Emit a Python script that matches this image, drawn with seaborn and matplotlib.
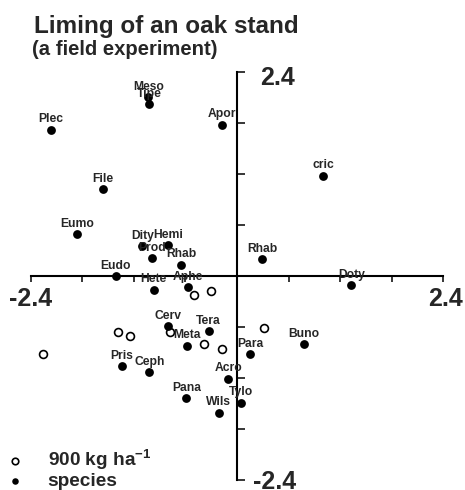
import matplotlib
matplotlib.use("Agg")
import matplotlib.pyplot as plt
import numpy as np
import pandas as pd
import seaborn as sns

# Species scores on the first two ordination axes
species = ["Meso", "Tipe", "Plec", "Apor", "cric", "File", "Eumo", "Dity",
           "Hemi", "Prod", "Rhab", "Rhab", "Eudo", "Hete", "Aphe", "Doty",
           "Cerv", "Tera", "Meta", "Pris", "Ceph", "Pana", "Acro", "Tylo",
           "Wils", "Para", "Buno"]
species_x = [-1.03, -1.02, -2.16, -0.17, 1.00, -1.56, -1.86, -1.10,
             -0.80, -0.99, -0.65, 0.29, -1.41, -0.97, -0.57, 1.33,
             -0.80, -0.33, -0.58, -1.34, -1.02, -0.59, -0.10, 0.05,
             -0.21, 0.15, 0.78]
species_y = [2.10, 2.02, 1.72, 1.78, 1.18, 1.02, 0.49, 0.35,
             0.36, 0.21, 0.13, 0.20, 0.00, -0.16, -0.13, -0.11,
             -0.59, -0.65, -0.82, -1.06, -1.13, -1.44, -1.21, -1.49,
             -1.61, -0.92, -0.80]

# Plot scores for the 900 kg/ha liming treatment
limed_x = [-2.26, -1.38, -1.24, -0.78, -0.50, -0.30, -0.38, -0.17, 0.31]
limed_y = [-0.92, -0.66, -0.71, -0.66, -0.22, -0.18, -0.80, -0.86, -0.61]

axis_ticks = [-2.4, -1.8, -1.2, -0.6, 0.0, 0.6, 1.2, 1.8, 2.4]
end_labels = ["-2.4", "2.4"]

title = "Liming of an oak stand"
subtitle = "(a field experiment)"
limed_name = "900 kg ha$^{-1}$"
species_name = "species"

sns.set_style("white")
plt.rcParams["font.family"] = ["Liberation Sans", "DejaVu Sans"]
plt.rcParams["mathtext.default"] = "regular"

W, H = 465, 490
fig = plt.figure(figsize=(W / 100, H / 100), dpi=100)
ax = fig.add_axes([0, 0, 1, 1])

# origin of the ordination at pixel (237, 276), ~86 px per unit
ox, oy, kx, ky = 237.0, 276.0, 86.0, 85.0
ax.set_xlim((0 - ox) / kx, (W - ox) / kx)
ax.set_ylim((oy - H) / ky, (oy - 0) / ky)

species_df = pd.DataFrame({"x": species_x, "y": species_y, "name": species})
limed_df = pd.DataFrame({"x": limed_x, "y": limed_y})

sns.scatterplot(data=limed_df, x="x", y="y", ax=ax, marker="o", s=32,
                facecolor="white", edgecolor="black", linewidth=1.2,
                label=limed_name, zorder=3)
sns.scatterplot(data=species_df, x="x", y="y", ax=ax, marker="o", s=40,
                color="black", edgecolor="black", linewidth=0,
                label=species_name, zorder=4)

for _, r in species_df.iterrows():
    ax.annotate(r["name"], (r["x"], r["y"]), xytext=(0, 7.5),
                textcoords="offset pixels", ha="center", va="baseline",
                fontsize=8.7, fontweight="bold", zorder=5)

# Axes crossing at the origin
for side in ["top", "right"]:
    ax.spines[side].set_visible(False)
ax.spines["bottom"].set_position(("data", 0))
ax.spines["left"].set_position(("data", 0))
ax.spines["bottom"].set_bounds(-2.4, 2.4)
ax.spines["left"].set_bounds(-2.4, 2.4)
for side in ["bottom", "left"]:
    ax.spines[side].set_linewidth(1.5)
    ax.spines[side].set_color("black")
ax.set_xticks(axis_ticks)
ax.set_yticks(axis_ticks)
ax.set_xticklabels([])
ax.set_yticklabels([])
ax.tick_params(axis="x", direction="out", length=4, width=1.1, color="black",
               bottom=True)
ax.tick_params(axis="y", direction="in", length=5.5, width=1.1, color="black",
               left=True)
ax.set_xlabel("")
ax.set_ylabel("")
ax.grid(False)

tick_font = dict(fontsize=18, fontweight="bold")
ax.annotate(end_labels[0], (axis_ticks[0], 0), xytext=(0, -11),
            textcoords="offset pixels", ha="center", va="top", **tick_font)
ax.annotate(end_labels[1], (axis_ticks[-1], 0), xytext=(2, -11),
            textcoords="offset pixels", ha="center", va="top", **tick_font)
ax.annotate(end_labels[1], (0, axis_ticks[-1]), xytext=(23, -6),
            textcoords="offset pixels", ha="left", va="center", **tick_font)
ax.annotate(end_labels[0], (0, axis_ticks[0]), xytext=(16, -2),
            textcoords="offset pixels", ha="left", va="center", **tick_font)

fig.text(34 / W, 1 - 33 / H, title, fontsize=17.5, fontweight="bold",
         ha="left", va="baseline")
fig.text(32 / W, 1 - 55 / H, subtitle, fontsize=14.6, fontweight="bold",
         ha="left", va="baseline")

leg = ax.legend(loc="lower left", bbox_to_anchor=(0.0, -0.012),
                frameon=False, handletextpad=1.2,
                handlelength=1.0, borderpad=0.3, labelspacing=0.05,
                borderaxespad=0.0, prop=dict(weight="bold", size=13.7))
for h in leg.legend_handles:
    h.set_sizes([22])

fig.savefig("out.png", dpi=100)
